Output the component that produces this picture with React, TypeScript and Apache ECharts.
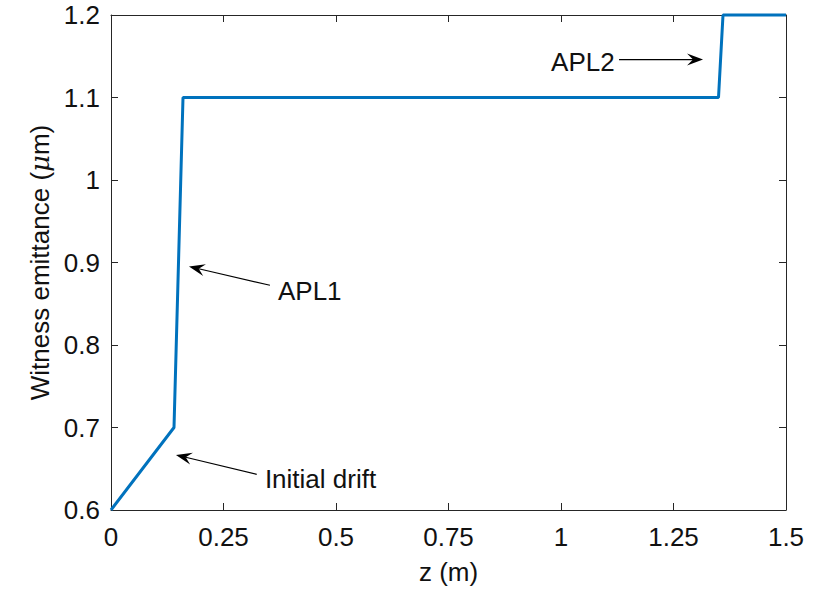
import React, { useEffect, useRef } from "react";
import * as echarts from "echarts";

const zValues = [0, 0.14, 0.16, 1.35, 1.36, 1.5];
const emittance = [0.6, 0.7, 1.1, 1.1, 1.2, 1.2];

const xRange = [0, 1.5];
const xInterval = 0.25;
const yRange = [0.6, 1.2];
const yInterval = 0.1;

const xName = "z (m)";
const annotationLabels = ["Initial drift", "APL1", "APL2"];
const annotationTextPos = [
  [0.342, 0.638],
  [0.371, 0.866],
  [0.978, 1.143],
];
const arrowTails = [
  [0.3238, 0.6432],
  [0.3533, 0.8724],
  [1.129, 1.146],
];
const arrowTips = [
  [0.1444, 0.6668],
  [0.1733, 0.8952],
  [1.3156, 1.146],
];

const FONT = "'Liberation Sans', Arial, Helvetica, sans-serif";
const AXIS_COLOR = "#262626";
const FS = 26;

export default function App() {
  const ref = useRef<HTMLDivElement>(null);

  useEffect(() => {
    if (!ref.current) return;
    const chart = echarts.init(ref.current, undefined, { renderer: "svg" });

    const commonX = {
      type: "value" as const,
      min: xRange[0],
      max: xRange[1],
      interval: xInterval,
      splitLine: { show: false },
      axisLine: { show: true, onZero: false, lineStyle: { color: AXIS_COLOR, width: 1 } },
      axisTick: { show: true, inside: true, length: 7, lineStyle: { color: AXIS_COLOR, width: 1 } },
    };
    const commonY = {
      type: "value" as const,
      min: yRange[0],
      max: yRange[1],
      interval: yInterval,
      splitLine: { show: false },
      axisLine: { show: true, onZero: false, lineStyle: { color: AXIS_COLOR, width: 1 } },
      axisTick: { show: true, inside: true, length: 7, lineStyle: { color: AXIS_COLOR, width: 1 } },
    };

    chart.setOption({
      animation: false,
      backgroundColor: "#ffffff",
      textStyle: { fontFamily: FONT },
      grid: { left: 111, top: 15, width: 675, height: 500 },
      xAxis: [
        {
          ...commonX,
          position: "bottom",
          name: xName,
          nameLocation: "middle",
          nameGap: 49,
          nameTextStyle: { fontSize: FS, color: "#111", fontFamily: FONT },
          axisLabel: { fontSize: FS, color: "#111", margin: 14, fontFamily: FONT },
        },
        {
          ...commonX,
          position: "top",
          axisLabel: { show: false },
        },
      ],
      yAxis: [
        {
          ...commonY,
          position: "left",
          name: "Witness emittance ({i|μ}m)",
          nameLocation: "middle",
          nameRotate: 90,
          nameGap: 56,
          nameTextStyle: {
            fontSize: FS,
            color: "#111",
            fontFamily: FONT,
            rich: {
              i: { fontSize: FS, fontStyle: "italic", fontFamily: "'DejaVu Serif', serif", color: "#111" },
            },
          },
          axisLabel: { fontSize: FS, color: "#111", margin: 11, fontFamily: FONT },
        },
        {
          ...commonY,
          position: "right",
          axisLabel: { show: false },
        },
      ],
      series: [
        {
          type: "line",
          xAxisIndex: 0,
          yAxisIndex: 0,
          data: zValues.map((z, i) => [z, emittance[i]]),
          showSymbol: false,
          symbol: "none",
          lineStyle: { color: "#0072BD", width: 3 },
          clip: false,
        },
      ],
    });

    const toPx = (p: number[]) =>
      chart.convertToPixel({ xAxisIndex: 0, yAxisIndex: 0 }, p) as number[];

    const graphics: any[] = [];
    annotationLabels.forEach((label, i) => {
      const tip = toPx(arrowTips[i]);
      const tail = toPx(arrowTails[i]);
      const dx = tip[0] - tail[0];
      const dy = tip[1] - tail[1];
      const len = Math.hypot(dx, dy);
      const ux = dx / len;
      const uy = dy / len;
      const nx = -uy;
      const ny = ux;
      const headLen = 16;
      const headHalf = 6;
      const notch = 10;
      graphics.push({
        type: "line",
        shape: { x1: tail[0], y1: tail[1], x2: tip[0] - notch * ux, y2: tip[1] - notch * uy },
        style: { stroke: "#000", lineWidth: 1.2 },
        z: 100,
      });
      graphics.push({
        type: "polygon",
        shape: {
          points: [
            [tip[0], tip[1]],
            [tip[0] - headLen * ux + headHalf * nx, tip[1] - headLen * uy + headHalf * ny],
            [tip[0] - notch * ux, tip[1] - notch * uy],
            [tip[0] - headLen * ux - headHalf * nx, tip[1] - headLen * uy - headHalf * ny],
          ],
        },
        style: { fill: "#000" },
        z: 100,
      });
      const tp = toPx(annotationTextPos[i]);
      graphics.push({
        type: "text",
        x: tp[0],
        y: tp[1],
        style: {
          text: label,
          fontSize: FS,
          fontFamily: FONT,
          fill: "#111",
          align: "left",
          verticalAlign: "middle",
        },
        z: 100,
      });
    });

    chart.setOption({ graphic: graphics });

    return () => chart.dispose();
  }, []);

  return (
    <div
      ref={ref}
      style={{ position: "fixed", left: 0, top: 0, width: 818, height: 590, background: "#fff" }}
    />
  );
}
